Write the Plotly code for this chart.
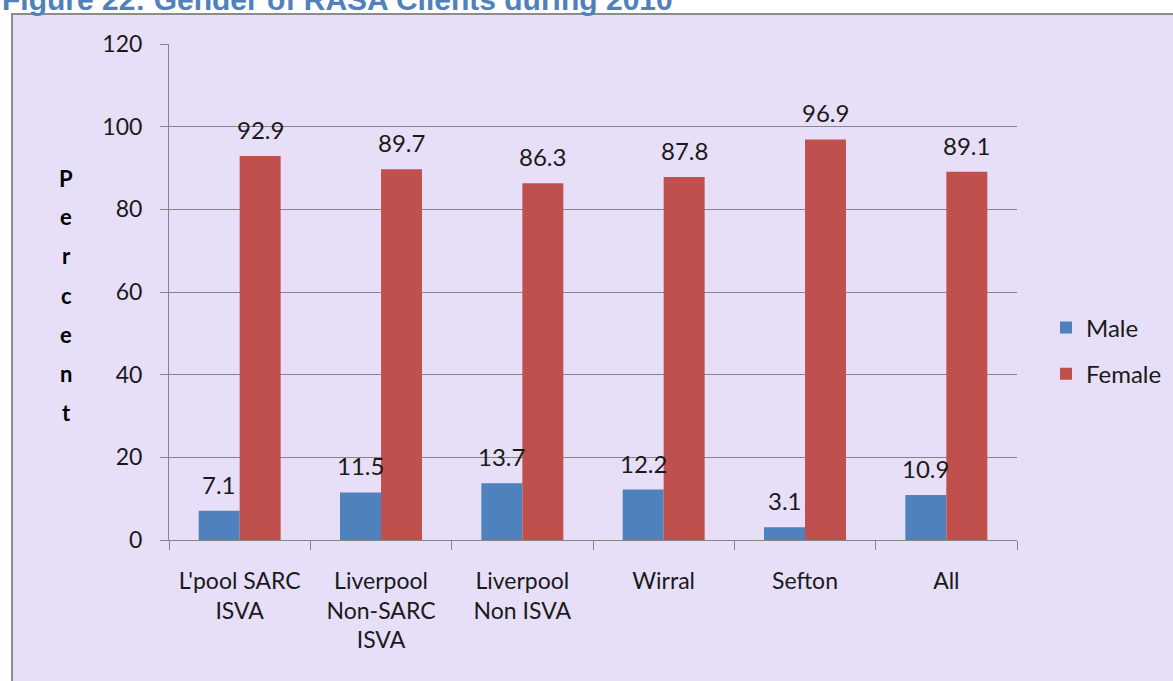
import plotly.graph_objects as go

categories = ["L'pool SARC<br>ISVA", "Liverpool<br>Non-SARC<br>ISVA", "Liverpool<br>Non ISVA", "Wirral", "Sefton", "All"]
male = [7.1, 11.5, 13.7, 12.2, 3.1, 10.9]
female = [92.9, 89.7, 86.3, 87.8, 96.9, 89.1]
series_names = ["Male", "Female"]
series_colors = ["#4F81BD", "#C0504D"]
y_ticks = [0, 20, 40, 60, 80, 100, 120]
title_text = "Figure 22: Gender of RASA Clients during 2010"
y_title = "Percent"

W, H = 1173, 681
L, R, T, B = 169, 156, 44, 141
PW, PH = W - L - R, H - T - B

def px(x):
    return (x - L) / PW

def py(y):
    return (H - B - y) / PH

FONT = "Lato"
TXT = "#1a1a1a"
fig = go.Figure()
for name, vals, col in zip(series_names, [male, female], series_colors):
    fig.add_trace(go.Bar(
        x=categories, y=vals, name=name, marker=dict(color=col, line=dict(width=0)),
        legendgroup=name,
    ))

annotations = []
bar_px = PW / len(categories) * (1 - 0.42) / 2
for k, vals in enumerate([male, female]):
    shift = (-0.5 if k == 0 else 0.5) * bar_px
    for c, v in zip(categories, vals):
        annotations.append(dict(
            x=c, y=v, xref="x", yref="y", text=f"{v}", showarrow=False,
            xshift=shift, yshift=10, yanchor="bottom",
            font=dict(family=FONT, size=24, color=TXT),
        ))

# vertical stacked axis title
for i, ch in enumerate(y_title):
    annotations.append(dict(
        x=px(66), y=py(178 + i * 39), xref="paper", yref="paper", text=f"<b>{ch}</b>",
        showarrow=False, xanchor="center", yanchor="middle",
        font=dict(family=FONT, size=22, color="#000000"),
    ))

annotations.append(dict(
    x=px(0), y=py(-19), xref="paper", yref="paper", text=f"<b>{title_text}</b>",
    showarrow=False, xanchor="left", yanchor="top",
    font=dict(family="Liberation Sans", size=30, color="#4F81BD"),
))

fig.update_layout(
    width=W, height=H,
    margin=dict(l=L, r=R, t=T, b=B, autoexpand=False),
    paper_bgcolor="white",
    plot_bgcolor="rgba(0,0,0,0)",
    barmode="group", bargap=0.42, bargroupgap=0,
    showlegend=True,
    legend=dict(
        x=px(1046), y=py(351), xanchor="left", yanchor="middle",
        bgcolor="rgba(0,0,0,0)", font=dict(family=FONT, size=24, color=TXT),
        tracegroupgap=12, traceorder="grouped",
    ),
    font=dict(family=FONT, size=23, color=TXT),
    annotations=annotations,
    shapes=[dict(
        type="rect", xref="paper", yref="paper", layer="below",
        x0=px(12), x1=px(W + 10), y0=py(H + 10), y1=py(14),
        fillcolor="#E7DFF8", line=dict(color="#8C8C8C", width=2),
    )],
    xaxis=dict(
        showline=True, linecolor="#868686", linewidth=1,
        ticks="outside", tickson="boundaries", ticklen=9, tickcolor="#868686",
        tickfont=dict(family=FONT, size=23, color=TXT),
        showgrid=False, ticklabelstandoff=20,
    ),
    yaxis=dict(
        range=[0, 120], tickvals=y_ticks,
        showline=True, linecolor="#868686", linewidth=1,
        ticks="outside", ticklen=8, tickcolor="#868686",
        showgrid=True, gridcolor="#868686", gridwidth=1,
        zeroline=False,
        tickfont=dict(family=FONT, size=23, color=TXT),
        ticklabelstandoff=13,
    ),
)

fig.write_html(
    "out.html",
    config={"displayModeBar": False},
    post_script="document.body.style.margin='0';document.body.style.overflow='hidden';",
)
